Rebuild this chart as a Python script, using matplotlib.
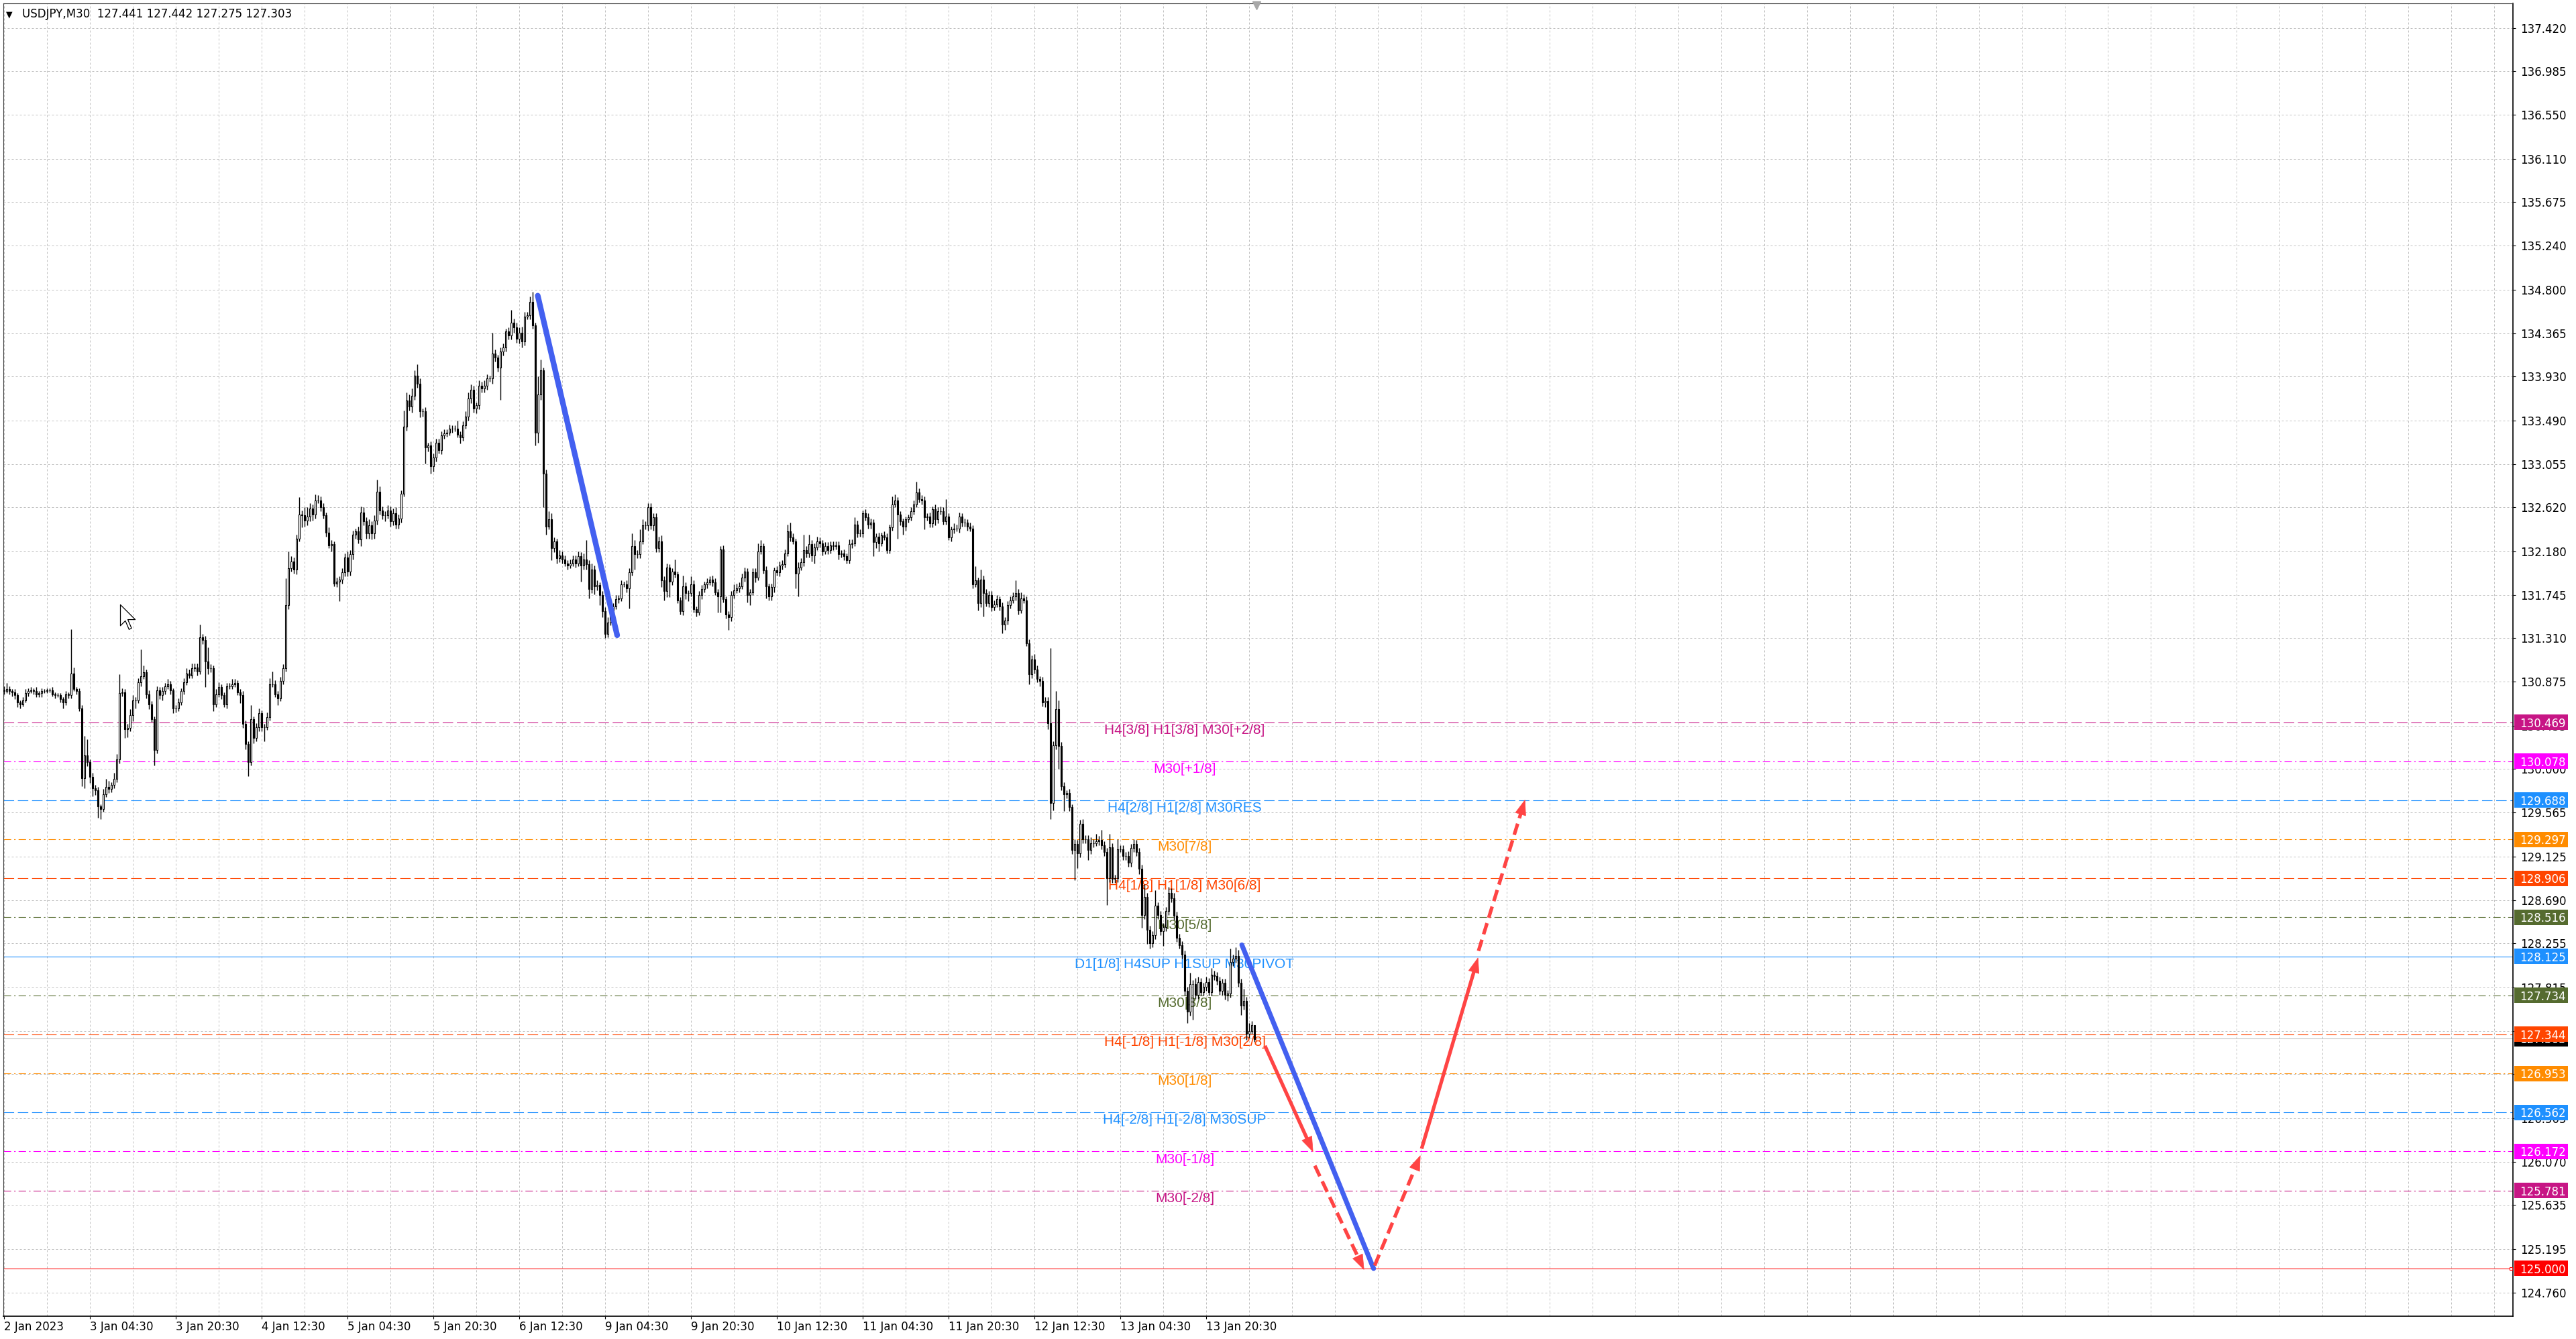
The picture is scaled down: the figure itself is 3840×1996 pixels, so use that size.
import numpy as np
import matplotlib
matplotlib.use("Agg")
import matplotlib.pyplot as plt
import matplotlib.transforms as mtrans
from matplotlib.patches import Rectangle, Polygon
from matplotlib.path import Path
from matplotlib.lines import Line2D
from matplotlib.ticker import MultipleLocator

plt.rcParams['font.family'] = ['DejaVu Sans']

# ---- USDJPY M30 candles ----
first_open = 130.79
closes = [
    130.78, 130.80, 130.78, 130.77, 130.74, 130.67, 130.65, 130.69, 130.76, 130.78,   # 0
    130.79, 130.78, 130.75, 130.76, 130.78, 130.78, 130.79, 130.79, 130.75, 130.74,   # 10
    130.74, 130.70, 130.67, 130.75, 130.74, 130.96, 130.80, 130.78, 130.61, 129.91,   # 20
    130.14, 130.07, 129.92, 129.81, 129.79, 129.63, 129.60, 129.75, 129.82, 129.80,   # 30
    129.84, 129.90, 130.10, 130.76, 130.77, 130.40, 130.41, 130.54, 130.69, 130.69,   # 40
    130.87, 130.93, 130.97, 130.75, 130.65, 130.50, 130.19, 130.79, 130.74, 130.78,   # 50
    130.83, 130.85, 130.79, 130.61, 130.61, 130.67, 130.78, 130.87, 130.96, 130.94,   # 60
    131.01, 131.02, 130.98, 131.32, 131.29, 131.08, 131.01, 131.01, 130.65, 130.75,   # 70
    130.82, 130.74, 130.65, 130.83, 130.83, 130.85, 130.86, 130.77, 130.74, 130.45,   # 80
    130.25, 130.07, 130.50, 130.31, 130.42, 130.56, 130.42, 130.42, 130.52, 130.85,   # 90
    130.85, 130.75, 130.71, 130.88, 131.01, 131.64, 132.01, 132.08, 132.00, 132.31,   # 100
    132.55, 132.54, 132.49, 132.53, 132.61, 132.55, 132.69, 132.69, 132.62, 132.54,   # 110
    132.37, 132.24, 132.25, 131.86, 131.88, 131.90, 131.97, 132.12, 131.98, 132.15,   # 120
    132.35, 132.38, 132.30, 132.57, 132.48, 132.36, 132.44, 132.36, 132.49, 132.78,   # 130
    132.59, 132.54, 132.54, 132.59, 132.48, 132.56, 132.45, 132.51, 132.76, 133.43,   # 140
    133.69, 133.63, 133.74, 133.94, 133.86, 133.58, 133.58, 133.22, 133.24, 133.03,   # 150
    133.12, 133.27, 133.19, 133.34, 133.36, 133.37, 133.41, 133.41, 133.41, 133.35,   # 160
    133.32, 133.44, 133.53, 133.71, 133.80, 133.61, 133.64, 133.84, 133.81, 133.84,   # 170
    133.91, 133.91, 134.16, 134.12, 134.02, 134.18, 134.22, 134.38, 134.34, 134.47,   # 180
    134.42, 134.31, 134.37, 134.28, 134.53, 134.54, 134.68, 134.44, 133.37, 133.75,   # 190
    133.99, 132.96, 132.43, 132.50, 132.21, 132.28, 132.11, 132.14, 132.10, 132.06,   # 200
    132.04, 132.06, 132.10, 132.06, 132.13, 132.04, 132.10, 132.05, 131.80, 132.00,   # 210
    131.83, 131.84, 131.74, 131.58, 131.35, 131.47, 131.56, 131.63, 131.70, 131.71,   # 220
    131.85, 131.85, 131.81, 131.97, 132.23, 132.15, 132.15, 132.28, 132.44, 132.44,   # 230
    132.62, 132.44, 132.52, 132.21, 132.28, 131.89, 131.78, 132.02, 131.88, 131.98,   # 240
    131.95, 131.69, 131.58, 131.83, 131.76, 131.76, 131.85, 131.60, 131.57, 131.74,   # 250
    131.80, 131.85, 131.87, 131.90, 131.87, 131.77, 131.73, 132.20, 131.70, 131.55,   # 260
    131.52, 131.74, 131.79, 131.81, 131.83, 131.92, 131.98, 131.74, 131.77, 131.97,   # 270
    131.92, 132.18, 132.23, 131.99, 131.83, 131.73, 131.82, 131.99, 131.97, 132.04,   # 280
    132.05, 132.16, 132.38, 132.32, 132.28, 131.96, 132.02, 132.07, 132.19, 132.16,   # 290
    132.25, 132.14, 132.22, 132.28, 132.26, 132.18, 132.23, 132.19, 132.24, 132.23,   # 300
    132.24, 132.15, 132.16, 132.13, 132.09, 132.25, 132.26, 132.45, 132.36, 132.36,   # 310
    132.56, 132.52, 132.45, 132.47, 132.27, 132.33, 132.26, 132.34, 132.32, 132.19,   # 320
    132.42, 132.65, 132.69, 132.55, 132.48, 132.43, 132.50, 132.52, 132.58, 132.65,   # 330
    132.77, 132.70, 132.69, 132.52, 132.53, 132.46, 132.60, 132.50, 132.58, 132.58,   # 340
    132.48, 132.53, 132.32, 132.40, 132.41, 132.41, 132.53, 132.47, 132.47, 132.43,   # 350
    132.41, 131.85, 131.89, 131.66, 131.90, 131.76, 131.66, 131.74, 131.62, 131.65,   # 360
    131.70, 131.63, 131.45, 131.49, 131.64, 131.69, 131.73, 131.76, 131.59, 131.71,   # 370
    131.69, 131.26, 130.95, 131.10, 131.00, 130.90, 130.88, 130.67, 130.68, 130.46,   # 380
    129.66, 130.24, 130.60, 130.23, 129.83, 129.75, 129.76, 129.62, 129.19, 129.25,   # 390
    129.16, 129.45, 129.30, 129.30, 129.19, 129.26, 129.26, 129.28, 129.29, 129.24,   # 400
    129.17, 128.91, 129.22, 128.90, 128.91, 129.20, 129.20, 129.13, 129.13, 129.06,   # 410
    129.21, 129.25, 129.17, 129.00, 128.54, 128.72, 128.39, 128.26, 128.34, 128.63,   # 420
    128.54, 128.38, 128.42, 128.58, 128.76, 128.71, 128.53, 128.31, 128.24, 128.14,   # 430
    127.78, 127.57, 127.85, 127.85, 127.74, 127.87, 127.77, 127.82, 127.87, 127.77,   # 440
    127.94, 127.93, 127.88, 127.78, 127.86, 127.74, 127.75, 128.07, 128.10, 128.13,   # 450
    127.86, 127.63, 127.68, 127.35, 127.38, 127.44, 127.30,                           # 460
]
# wick lengths beyond the body, in pips (0.01)
wick_up = [
    4, 6, 3, 2, 3, 2, 2, 3, 4, 3,   3, 2, 4, 2, 3, 2, 2, 2, 3, 2,
    2, 2, 2, 3, 2, 44, 6, 2, 3, 3,  19, 16, 3, 4, 3, 3, 2, 5, 8, 6,
    3, 6, 5, 19, 4, 3, 4, 6, 5, 3,  4, 27, 7, 3, 4, 3, 3, 4, 3, 4,
    3, 5, 3, 2, 3, 4, 3, 4, 5, 4,   5, 4, 4, 13, 3, 4, 14, 4, 3, 5,
    5, 3, 3, 3, 3, 5, 4, 3, 3, 4,   4, 3, 14, 3, 4, 5, 3, 3, 5, 6,
    13, 4, 3, 4, 4, 27, 17, 5, 4, 4,  17, 4, 8, 9, 5, 4, 6, 5, 4, 4,
    3, 5, 4, 3, 4, 3, 4, 4, 6, 4,   4, 3, 5, 6, 5, 4, 6, 4, 5, 12,
    5, 4, 4, 5, 4, 5, 6, 4, 3, 16,  8, 6, 7, 5, 11, 5, 3, 4, 3, 4,
    4, 4, 4, 4, 4, 3, 4, 3, 3, 8,   3, 4, 5, 6, 5, 4, 3, 5, 4, 5,
    4, 3, 21, 4, 3, 4, 4, 3, 4, 13,  4, 5, 5, 6, 5, 4, 5, 10, 3, 18,
    11, 3, 4, 8, 6, 4, 3, 5, 4, 4,  3, 4, 4, 4, 5, 4, 6, 19, 4, 6,
    4, 5, 3, 4, 4, 5, 4, 3, 4, 3,   4, 3, 4, 4, 13, 6, 4, 12, 6, 4,
    4, 4, 4, 4, 5, 6, 4, 4, 3, 3,   12, 3, 3, 11, 4, 3, 8, 4, 3, 4,
    4, 3, 4, 3, 4, 4, 3, 3, 4, 3,   3, 4, 6, 5, 4, 4, 4, 3, 3, 4,
    4, 8, 6, 3, 4, 3, 4, 3, 4, 4,   4, 4, 7, 9, 4, 3, 5, 4, 16, 4,
    10, 4, 4, 5, 4, 3, 4, 4, 4, 4,  4, 4, 3, 4, 3, 5, 4, 7, 4, 4,
    3, 4, 4, 4, 3, 3, 4, 3, 4, 4,   3, 8, 6, 3, 3, 3, 3, 3, 4, 4,
    11, 4, 4, 4, 3, 4, 3, 5, 4, 5,  4, 17, 3, 3, 5, 4, 4, 3, 4, 3,
    4, 3, 14, 3, 10, 4, 4, 4, 4, 4,  4, 3, 4, 3, 4, 4, 4, 13, 4, 6,
    4, 4, 4, 4, 5, 4, 3, 4, 4, 4,   75, 4, 18, 9, 4, 4, 3, 4, 3, 5,
    4, 4, 5, 4, 4, 6, 4, 7, 4, 10,  4, 4, 13, 4, 3, 10, 4, 4, 4, 5,
    4, 5, 4, 4, 4, 13, 4, 4, 4, 16,  4, 4, 4, 4, 6, 5, 5, 4, 4, 4,
    4, 4, 11, 4, 6, 5, 4, 4, 5, 4,  7, 4, 4, 4, 4, 4, 4, 13, 4, 9,
    6, 4, 12, 4, 8, 4, 0,
]
wick_dn = [
    3, 2, 3, 4, 4, 5, 4, 2, 2, 3,   2, 3, 3, 3, 4, 2, 2, 2, 2, 3,
    2, 3, 6, 3, 3, 3, 2, 3, 3, 8,   10, 4, 6, 8, 5, 12, 10, 3, 3, 4,
    3, 3, 3, 4, 3, 9, 8, 3, 6, 8,   3, 4, 3, 4, 5, 3, 15, 3, 4, 5,
    3, 3, 4, 5, 4, 3, 3, 3, 3, 3,   3, 3, 4, 3, 4, 26, 6, 4, 7, 3,
    3, 4, 3, 4, 3, 3, 3, 3, 8, 4,   5, 14, 3, 5, 3, 4, 4, 14, 3, 3,
    3, 3, 7, 3, 3, 3, 4, 3, 4, 5,   3, 12, 6, 5, 5, 6, 4, 3, 4, 3,
    4, 3, 6, 3, 4, 20, 4, 4, 5, 4,  5, 4, 4, 7, 4, 5, 5, 6, 5, 4,
    4, 4, 6, 3, 5, 4, 4, 4, 4, 3,   4, 4, 6, 4, 4, 6, 5, 16, 4, 7,
    5, 4, 3, 4, 3, 3, 3, 4, 3, 3,   6, 3, 3, 4, 5, 4, 5, 4, 4, 4,
    4, 3, 5, 4, 4, 32, 4, 4, 4, 4,  5, 4, 5, 6, 4, 3, 4, 3, 13, 10,
    5, 34, 8, 3, 12, 4, 5, 4, 4, 3,  4, 3, 3, 4, 3, 16, 4, 5, 9, 4,
    8, 4, 10, 6, 4, 3, 3, 4, 3, 4,  3, 3, 4, 20, 3, 15, 4, 4, 3, 4,
    5, 4, 5, 4, 4, 7, 9, 6, 16, 4,  3, 3, 3, 4, 6, 8, 3, 3, 4, 3,
    4, 3, 4, 3, 4, 3, 16, 16, 3, 4,  13, 4, 3, 3, 4, 3, 4, 7, 10, 3,
    5, 3, 3, 3, 12, 4, 4, 5, 3, 4,  4, 3, 3, 4, 3, 15, 23, 3, 4, 4,
    4, 6, 8, 3, 4, 4, 3, 4, 3, 4,   3, 5, 3, 4, 3, 3, 4, 3, 4, 3,
    4, 3, 4, 4, 14, 6, 8, 3, 3, 3,  3, 3, 3, 24, 4, 8, 4, 3, 3, 3,
    3, 3, 4, 12, 3, 4, 4, 6, 4, 3,  3, 3, 3, 4, 4, 3, 4, 4, 4, 4,
    3, 4, 3, 7, 4, 23, 3, 4, 4, 3,  3, 4, 9, 6, 4, 3, 3, 4, 4, 3,
    3, 3, 10, 4, 4, 3, 5, 4, 5, 6,  16, 7, 4, 23, 4, 17, 4, 4, 4, 30,
    15, 4, 4, 4, 10, 4, 4, 3, 4, 4,  4, 27, 4, 4, 4, 4, 3, 4, 4, 4,
    4, 4, 4, 5, 13, 4, 14, 6, 4, 4,  4, 4, 15, 4, 4, 4, 4, 4, 4, 4,
    5, 11, 4, 36, 4, 4, 4, 4, 4, 4,  4, 4, 4, 4, 4, 5, 6, 4, 4, 4,
    4, 9, 4, 6, 4, 3, 3,
]

# ---- Murrey math levels ----
level_prices = [130.469, 130.078, 129.688, 129.297, 128.906, 128.516, 128.125,
                127.734, 127.344, 126.953, 126.562, 126.172, 125.781]
level_names = ['H4[3/8] H1[3/8] M30[+2/8]', 'M30[+1/8]', 'H4[2/8] H1[2/8] M30RES',
               'M30[7/8]', 'H4[1/8] H1[1/8] M30[6/8]', 'M30[5/8]',
               'D1[1/8] H4SUP H1SUP M30PIVOT', 'M30[3/8]', 'H4[-1/8] H1[-1/8] M30[2/8]',
               'M30[1/8]', 'H4[-2/8] H1[-2/8] M30SUP', 'M30[-1/8]', 'M30[-2/8]']
level_colors = ['#C71585', '#FF00FF', '#1E90FF', '#FF8C00', '#FF4500', '#556B2F', '#1E90FF',
                '#556B2F', '#FF4500', '#FF8C00', '#1E90FF', '#FF00FF', '#C71585']
level_styles = ['dash', 'dashdot', 'dash', 'dashdot', 'dash', 'dashdot', 'solid',
                'dashdot', 'dash', 'dashdot', 'dash', 'dashdot', 'dashdot']
target_price = 125.000
bid_price = 127.303

# trend lines (bar index, price)
blue_x0 = [198.9, 461.3]
blue_y0 = [134.74, 128.24]
blue_x1 = [228.5, 510.4]
blue_y1 = [131.34, 125.00]

# forecast arrows
arrow_x0 = [469.9, 488.5, 510.8, 528.3, 549.5]
arrow_y0 = [127.23, 126.03, 125.03, 126.20, 128.18]
arrow_x1 = [487.8, 506.8, 527.8, 549.3, 566.8]
arrow_y1 = [126.17, 124.99, 126.13, 128.11, 129.69]
arrow_dashed = [False, True, True, False, True]

price_ticks = [137.420, 136.985, 136.550, 136.110, 135.675, 135.240, 134.800, 134.365,
               133.930, 133.490, 133.055, 132.620, 132.180, 131.745, 131.310, 130.875,
               130.435, 130.000, 129.565, 129.125, 128.690, 128.255, 127.815, 127.380,
               126.945, 126.505, 126.070, 125.635, 125.195, 124.760]
date_bars = [0, 32, 64, 96, 128, 160, 192, 224, 256, 288, 320, 352, 384, 416, 448]
date_labels = ['2 Jan 2023', '3 Jan 04:30', '3 Jan 20:30', '4 Jan 12:30', '5 Jan 04:30',
               '5 Jan 20:30', '6 Jan 12:30', '9 Jan 04:30', '9 Jan 20:30', '10 Jan 12:30',
               '11 Jan 04:30', '11 Jan 20:30', '12 Jan 12:30', '13 Jan 04:30', '13 Jan 20:30']
title = 'USDJPY,M30  127.441 127.442 127.275 127.303'

# ---- figure ----
W, H, DPI = 3840, 1996, 100
fig = plt.figure(figsize=(W / DPI, H / DPI), dpi=DPI)
fig.patch.set_facecolor('white')
L, R, T, B = 5, 3746, 5, 1962
ax = fig.add_axes([L / W, 1 - B / H, (R - L) / W, (B - T) / H])
ax.set_facecolor('white')
ax.set_xlim(-0.25, 935)
ax.set_ylim(124.523, 137.666)

# candles
c = np.array(closes)
o = np.array([first_open] + closes[:-1])
hi = np.maximum(o, c) + np.array(wick_up) / 100.0
lo = np.minimum(o, c) - np.array(wick_dn) / 100.0
x = np.arange(len(c))
ax.vlines(x, lo, hi, color='black', lw=1.0, zorder=3)
up = c >= o
ax.bar(x[up], (c - o)[up], bottom=o[up], width=0.55, color='white',
       edgecolor='black', lw=0.8, zorder=3.1)
ax.bar(x[~up], (o - c)[~up], bottom=c[~up], width=0.55, color='black',
       edgecolor='black', lw=0.8, zorder=3.1)

# grid
ax.yaxis.tick_right()
ax.set_yticks(price_ticks)
ax.set_yticklabels([f'{v:.3f}' for v in price_ticks])
ax.set_xticks(date_bars)
ax.set_xticklabels(date_labels, ha='left')
ax.xaxis.set_minor_locator(MultipleLocator(16))
ax.tick_params(axis='y', length=3, width=0.8, pad=5, labelsize=12, colors='black')
ax.tick_params(axis='x', which='major', length=3, width=0.8, pad=2, labelsize=12)
ax.tick_params(axis='x', which='minor', length=0)
grid_kw = dict(color='#C0C0C0', lw=0.72, linestyle=(0, (3, 3)))
ax.grid(True, axis='y', which='major', **grid_kw)
ax.grid(True, axis='x', which='both', **grid_kw)
for s in ['left', 'top']:
    ax.spines[s].set_linewidth(0.8)
    ax.spines[s].set_color('#404040')
for s in ['right', 'bottom']:
    ax.spines[s].set_linewidth(1.2)

# levels
styles = {'dash': (0, (14, 5)), 'dashdot': (0, (10, 4, 2, 4)), 'solid': '-'}
label_bar = 440
for p, name, col, st in zip(level_prices, level_names, level_colors, level_styles):
    ax.axhline(p, color=col, lw=0.8, linestyle=styles[st], zorder=2.5)
    ax.annotate(name, (label_bar, p), xytext=(0, -1.5), textcoords='offset points',
                ha='center', va='top', fontsize=15, color=col,
                family=['Liberation Sans', 'DejaVu Sans'], zorder=2.6)
ax.axhline(target_price, color='#FF0000', lw=0.75, zorder=2.5)
ax.axhline(bid_price, color='#C0C0C0', lw=0.75, zorder=2.4)
ax.plot([934.2], [target_price], marker='s', ms=3, mfc='white', mec='red', mew=0.8,
        clip_on=False, zorder=5)

# price boxes on the right scale
bt = mtrans.blended_transform_factory(ax.transAxes, ax.transData)
bx0 = (3748 - L) / (R - L)
bx1 = (3828 - L) / (R - L)
btx = (3756 - L) / (R - L)
box_h = 23 / 148.9


def price_box(p, col, z):
    ax.add_patch(Rectangle((bx0, p - box_h / 2), bx1 - bx0, box_h, transform=bt,
                           facecolor=col, edgecolor='none', clip_on=False, zorder=z))
    ax.text(btx, p, f'{p:.3f}', transform=bt, color='white', fontsize=12,
            ha='left', va='center_baseline', clip_on=False, zorder=z + 0.05)


price_box(bid_price, '#000000', 5)
for p, col in zip(level_prices, level_colors):
    price_box(p, col, 5.2)
price_box(target_price, '#FF0000', 5.2)

# blue trend lines
for xa, ya, xb, yb, w in zip(blue_x0, blue_y0, blue_x1, blue_y1, [6.0, 5.2]):
    ax.plot([xa, xb], [ya, yb], color='#4360F0', lw=w, solid_capstyle='round', zorder=4)

# red forecast arrows
red = '#FF4444'
to_px = ax.transData.transform
to_dt = ax.transData.inverted().transform
hl, hw = 22.0, 8.0
for xa, ya, xb, yb, dashed in zip(arrow_x0, arrow_y0, arrow_x1, arrow_y1, arrow_dashed):
    p0 = to_px((xa, ya))
    p1 = to_px((xb, yb))
    d = (p1 - p0) / np.hypot(*(p1 - p0))
    n = np.array([-d[1], d[0]])
    base = p1 - d * hl
    shaft_end = to_dt(base + d * hl * 0.3)
    ls = (0, (3.3, 1.6)) if dashed else '-'
    ax.plot([xa, shaft_end[0]], [ya, shaft_end[1]], color=red, lw=3.8,
            linestyle=ls, solid_capstyle='butt', dash_capstyle='butt', zorder=4.2)
    head = to_dt(np.array([p1, base + n * hw, base - n * hw]))
    ax.add_patch(Polygon(head, closed=True, facecolor=red, edgecolor=red, lw=0.5, zorder=4.3))

# mouse pointer left on the chart
cursor = Path([(0, 0), (0, -17), (4, -13), (7, -20), (9, -19), (6, -12), (12, -12), (0, 0)],
              closed=True)
ax.plot([43.25], [131.648], marker=cursor, ms=53, mfc='white', mec='black', mew=0.9,
        linestyle='none', zorder=6)

# header and chart-shift marker
fig.text(33 / W, 1 - 26 / H, title, fontsize=12, ha='left', va='baseline', color='black')
fig.text(9 / W, 1 - 25 / H, '\u25bc', fontsize=9, ha='left', va='baseline', color='black')
fig.add_artist(Line2D([1873 / W], [1 - 8 / H], marker='v', ms=8, color='#A8A8A8',
                      linestyle='none', transform=fig.transFigure))

fig.savefig('out.png', dpi=DPI, facecolor='white')
